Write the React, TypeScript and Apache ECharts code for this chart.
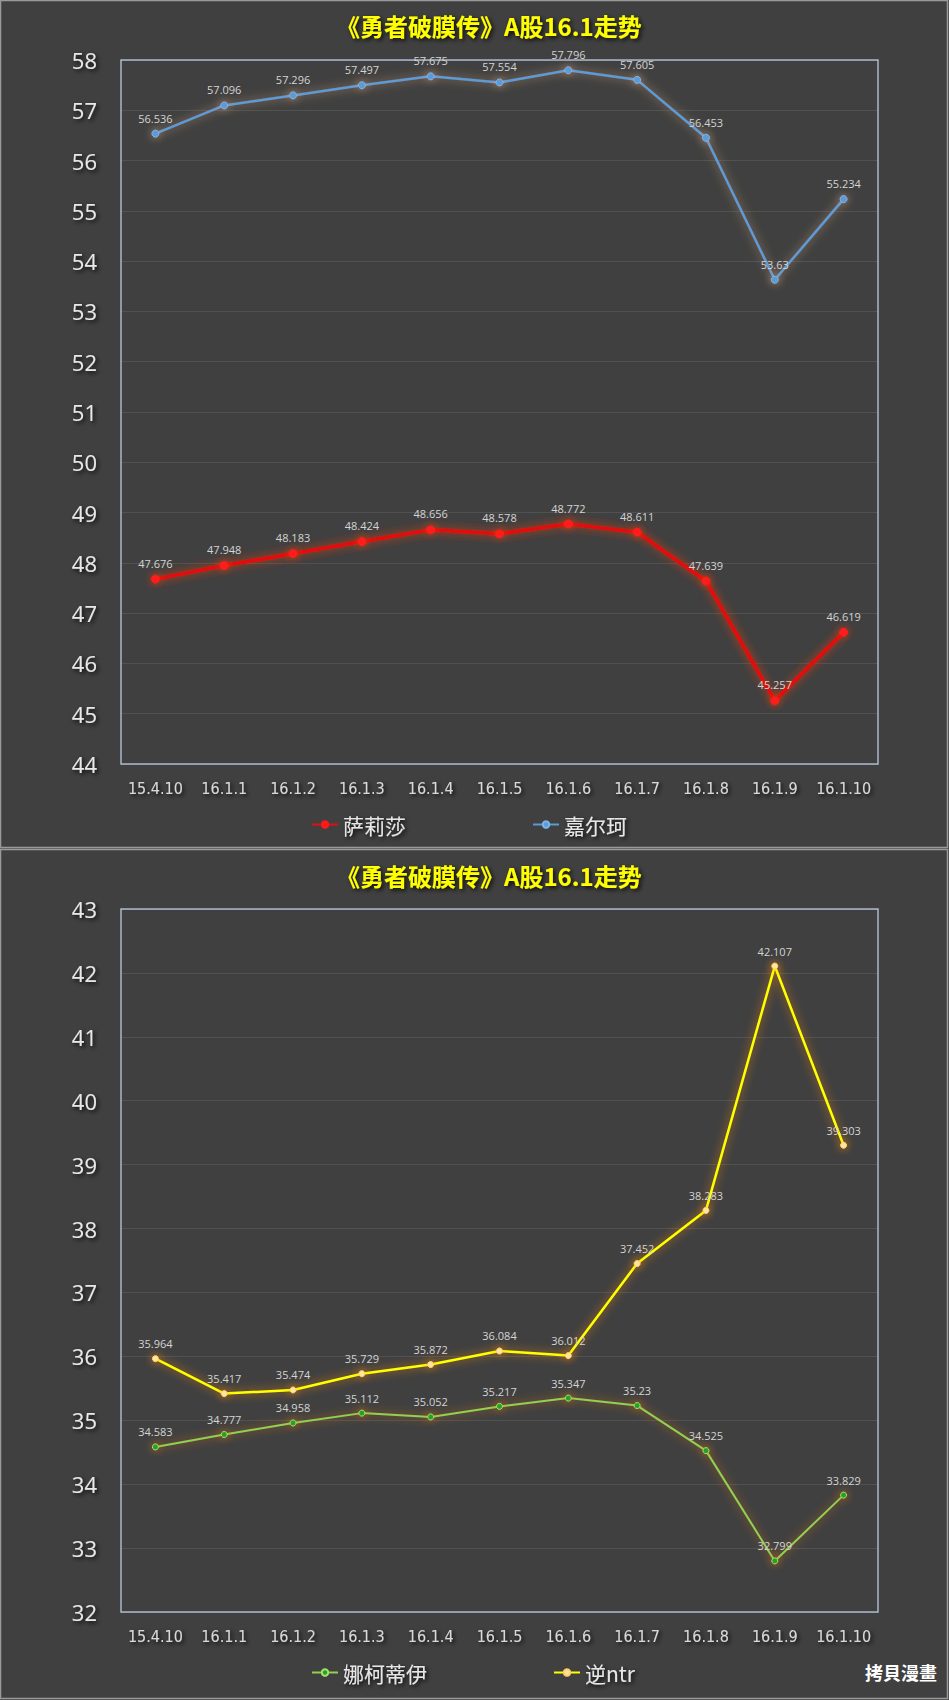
import React, { useEffect, useRef } from "react";
import * as echarts from "echarts";

const categories = ["15.4.10", "16.1.1", "16.1.2", "16.1.3", "16.1.4", "16.1.5", "16.1.6", "16.1.7", "16.1.8", "16.1.9", "16.1.10"];
const saliSha = [47.676, 47.948, 48.183, 48.424, 48.656, 48.578, 48.772, 48.611, 47.639, 45.257, 46.619];
const jiaErKe = [56.536, 57.096, 57.296, 57.497, 57.675, 57.554, 57.796, 57.605, 56.453, 53.63, 55.234];
const naKeDiYi = [34.583, 34.777, 34.958, 35.112, 35.052, 35.217, 35.347, 35.23, 34.525, 32.799, 33.829];
const niNtr = [35.964, 35.417, 35.474, 35.729, 35.872, 36.084, 36.012, 37.452, 38.283, 42.107, 39.303];

const titleText = "《勇者破膜传》A股16.1走势";
const topNames = ["萨莉莎", "嘉尔珂"];
const bottomNames = ["娜柯蒂伊", "逆ntr"];
const watermark = "拷貝漫畫";

const shadowText = {
  textShadowColor: "rgba(0,0,0,0.85)",
  textShadowBlur: 4,
  textShadowOffsetX: 2,
  textShadowOffsetY: 2,
};

export default function App() {
  const ref = useRef<HTMLDivElement>(null);
  useEffect(() => {
    document.body.style.margin = "0";
    const chart = echarts.init(ref.current!, null, { renderer: "svg" });
    const xAxisBase = (gridIndex: number) => ({
      type: "category",
      gridIndex,
      data: categories,
      boundaryGap: true,
      axisLine: { show: false },
      axisTick: { show: false },
      axisLabel: {
        interval: 0,
        color: "#d9d9d9",
        fontSize: 16,
        fontFamily: "Liberation Sans Narrow, DejaVu Sans Condensed, Roboto, sans-serif",
        margin: 16,
        ...shadowText,
      },
    });
    const yAxisBase = (gridIndex: number, min: number, max: number) => ({
      type: "value",
      gridIndex,
      min,
      max,
      interval: 1,
      axisLine: { show: false },
      axisTick: { show: false },
      splitLine: { lineStyle: { color: "rgba(255,255,255,0.09)", width: 1 } },
      axisLabel: {
        color: "#e8e8e8",
        fontSize: 22,
        fontFamily: "Open Sans, sans-serif",
        margin: 24,
        ...shadowText,
      },
    });
    const labelCfg = {
      show: true,
      position: "top",
      distance: 6,
      color: "#d4d4d4",
      fontSize: 11,
      fontFamily: "Open Sans, sans-serif",
    };
    const mkSeries = (
      name: string,
      data: number[],
      idx: number,
      color: string,
      width: number,
      glow: string,
      symbolFill: string,
      symbolSize: number,
      symbolBorder: string
    ) => ({
      name,
      type: "line",
      xAxisIndex: idx,
      yAxisIndex: idx,
      data,
      symbol: "circle",
      symbolSize,
      lineStyle: { color, width, shadowColor: glow, shadowBlur: 10 },
      itemStyle: { color: symbolFill, borderColor: symbolBorder, borderWidth: 1, shadowColor: glow, shadowBlur: 8 },
      label: labelCfg,
      emphasis: { disabled: true },
    });
    const titleStyle = {
      color: "#ffff00",
      fontSize: 24,
      fontWeight: "bold",
      fontFamily: "Noto Sans CJK SC, sans-serif",
      ...shadowText,
    };
    const legendText = {
      color: "#e6e6e6",
      fontSize: 21,
      fontFamily: "Noto Sans CJK SC, sans-serif",
      ...shadowText,
    };
    chart.setOption({
      animation: false,
      backgroundColor: "#404040",
      title: [
        { text: titleText, left: 336, top: 13, padding: 0, textStyle: titleStyle },
        { text: titleText, left: 336, top: 863, padding: 0, textStyle: titleStyle },
      ],
      legend: [
        {
          data: topNames,
          left: 311,
          top: 814,
          padding: 0,
          itemWidth: 26,
          itemHeight: 8,
          itemGap: 126,
          textStyle: legendText,
        },
        {
          data: bottomNames,
          left: 311,
          top: 1662,
          padding: 0,
          itemWidth: 26,
          itemHeight: 8,
          itemGap: 126,
          textStyle: legendText,
        },
      ],
      grid: [
        { left: 121, right: 71, top: 60, height: 704, show: true, borderColor: "#a8b6cc", borderWidth: 1.5, backgroundColor: "transparent" },
        { left: 121, right: 71, top: 909, height: 703, show: true, borderColor: "#a8b6cc", borderWidth: 1.5, backgroundColor: "transparent" },
      ],
      xAxis: [xAxisBase(0), xAxisBase(1)],
      yAxis: [yAxisBase(0, 44, 58), yAxisBase(1, 32, 43)],
      graphic: [
        { type: "rect", shape: { x: 0.5, y: 0.5, width: 947, height: 847 }, style: { fill: "none", stroke: "#9a9a9a", lineWidth: 1.5 }, silent: true },
        { type: "rect", shape: { x: 0.5, y: 849.5, width: 947, height: 849 }, style: { fill: "none", stroke: "#9a9a9a", lineWidth: 1.5 }, silent: true },
        {
          type: "text",
          right: 12,
          top: 1663,
          style: { text: watermark, fill: "#ffffff", fontSize: 18, fontWeight: "bold", fontFamily: "Noto Sans CJK TC, sans-serif" },
          silent: true,
        },
      ],
      series: [
        mkSeries(topNames[0], saliSha, 0, "#e01010", 4, "rgba(255,60,0,0.75)", "#ff1a1a", 8, "#ff1a1a"),
        mkSeries(topNames[1], jiaErKe, 0, "#5b9bd5", 2.5, "rgba(255,190,140,0.6)", "#5b9bd5", 7, "#7fb3e8"),
        mkSeries(bottomNames[0], naKeDiYi, 1, "#92d050", 2, "rgba(255,130,20,0.7)", "#2ca02c", 6, "#a6e06a"),
        mkSeries(bottomNames[1], niNtr, 1, "#ffff00", 2.5, "rgba(255,140,0,0.85)", "#ffe7a0", 6, "#ffd070"),
      ],
    });
    return () => chart.dispose();
  }, []);
  return <div ref={ref} style={{ width: 949, height: 1700 }} />;
}
